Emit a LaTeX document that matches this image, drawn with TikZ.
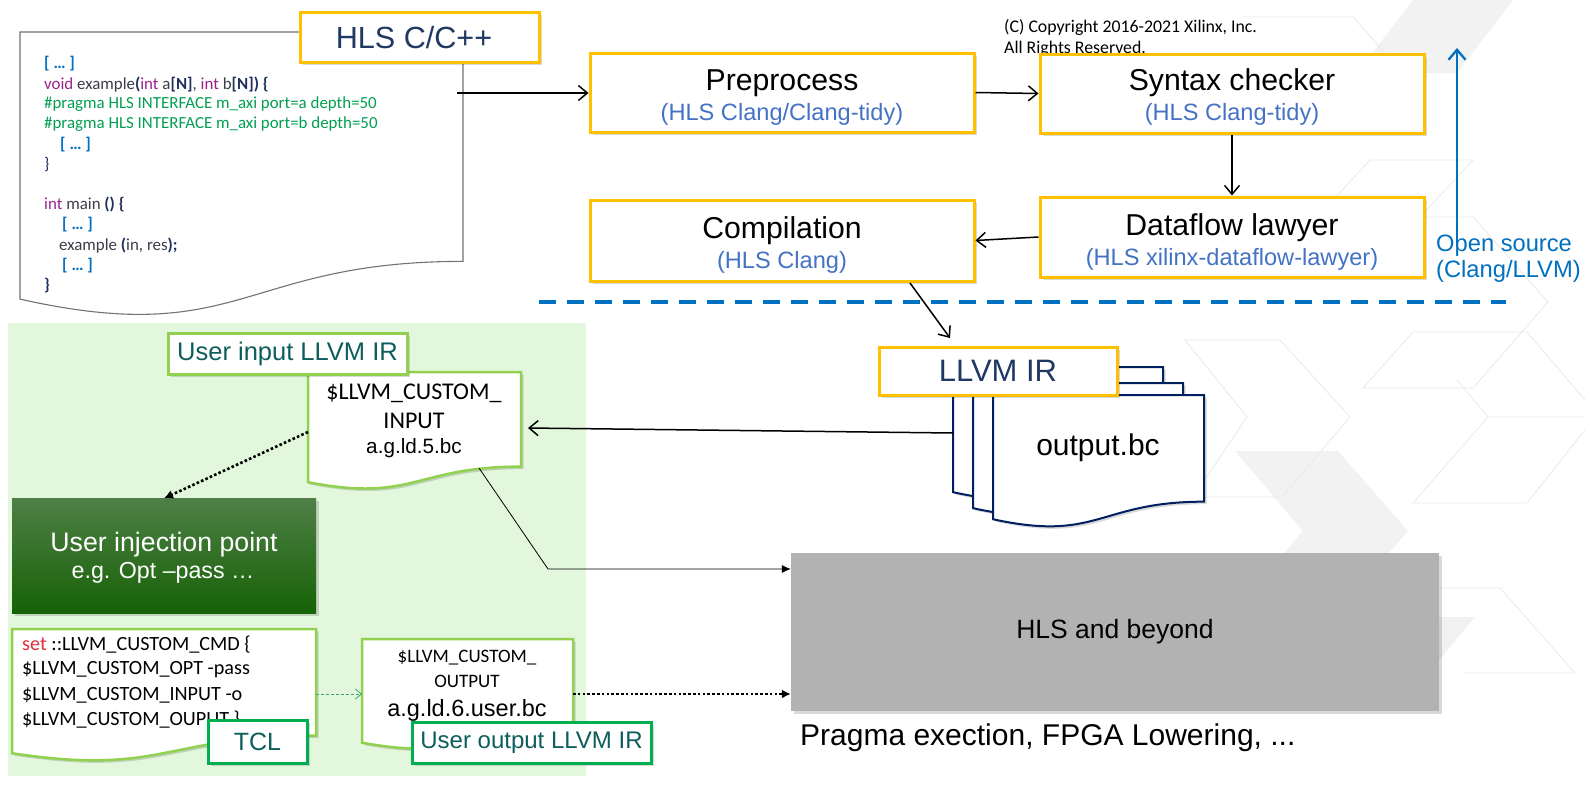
\documentclass[tikz,border=0pt]{standalone}
\usepackage{fontspec}
\setmainfont{Liberation Sans}
\newfontfamily\calib{Carlito}
\usetikzlibrary{arrows.meta,shadows,calc}
\definecolor{hy}{HTML}{FFC000}
\definecolor{navyt}{HTML}{1F3864}
\definecolor{subblue}{HTML}{4472C4}
\definecolor{osblue}{HTML}{0070C0}
\definecolor{lgreen}{HTML}{92D050}
\definecolor{mgreen}{HTML}{00B050}
\definecolor{tealt}{HTML}{0D5E5C}
\definecolor{bggreen}{RGB}{226,247,220}
\definecolor{cblue}{HTML}{0070C0}
\definecolor{cpurple}{HTML}{9B238C}
\definecolor{cgreen}{HTML}{00A050}
\definecolor{cgray}{HTML}{3C3C48}
\definecolor{cnavy}{HTML}{1F2F5F}
\definecolor{cred}{HTML}{E0303C}
\definecolor{docnavy}{HTML}{002060}
\definecolor{hlsgray}{HTML}{B2B2B2}
\definecolor{wm}{HTML}{F2F2F2}
\definecolor{wml}{HTML}{EAEAEA}
\definecolor{injtop}{HTML}{4F7F46}
\definecolor{injbot}{HTML}{166206}
\definecolor{tdash}{HTML}{3AA57A}
\newcommand{\fsz}[2]{\fontsize{#1}{#2}\selectfont}
\newcommand{\docpath}[5]{\path[#5] (#1,#2) -- (#3,#2) -- (#3,{#2+0.802*#4}) .. controls ({(#1+#3)/2},{#2+0.802*#4}) and ({(#1+#3)/2},{#2+1.1075*#4}) .. (#1,{#2+0.934*#4}) -- cycle;}
\begin{document}
\begin{tikzpicture}[x=1pt,y=-1pt,
  shd/.style={drop shadow={shadow xshift=2.5pt,shadow yshift=-2.5pt,opacity=0.15,fill=black}},
  ybox/.style={draw=hy,line width=3pt,fill=white,minimum width=384pt,minimum height=79pt,inner sep=0pt,shd},
  ttl/.style={font=\fsz{30.2}{35},text=black,inner sep=0pt},
  sub/.style={font=\fsz{23.6}{28},text=subblue,inner sep=0pt},
  arr/.style={line width=1.5pt,-{Straight Barb[length=9pt,width=15pt]}},
  code/.style={font=\calib\fsz{16.9}{20},text=cgray,inner sep=0pt,anchor=west},
  tcl/.style={font=\calib\fsz{20.2}{24},text=black,inner sep=0pt,anchor=west},
  gtag/.style={fill=white,line width=3pt,inner sep=0pt,text=tealt,shd},
  dots/.style={line width=2.6pt,dash pattern=on 2.6pt off 2.2pt,-{Latex[length=9pt,width=9pt]}},
]
\useasboundingbox (0,0) rectangle (1585,801);
\fill[white] (0,0) rectangle (1585,801);

% faint watermark chevrons
\fill[wm] (1413,0) -- (1513,0) -- (1457,73) -- (1357,73) -- cycle;
\fill[wm] (1235,451) -- (1338,451) -- (1408,531) -- (1338,611) -- (1235,611) -- (1303,531) -- cycle;
\fill[wm!80!gray!40] (1439,617) -- (1475,617) -- (1439,660) -- cycle;
\begin{scope}[draw=wml,line width=0.8pt]
\draw (1243,17) -- (1353,17) -- (1413,85);
\draw (1310,225) -- (1370,160) -- (1473,160) -- (1420,217) -- (1473,217) -- (1548,302) -- (1473,388) -- (1363,388) -- (1413,332) -- (1527,332) -- (1585,400);
\draw (1185,340) -- (1280,340) -- (1350,417) -- (1282,497) -- (1193,497) -- (1247,417) -- cycle;
\draw (1457,380) -- (1488,417) -- (1585,417);
\draw (1488,417) -- (1413,503) -- (1527,503) -- (1585,430);
\draw (1440,588) -- (1500,588) -- (1575,673) -- (1463,673);
\end{scope}

% green region
\fill[bggreen] (8,323) rectangle (586,776);

% code document
\docpath{20}{32}{463}{286}{draw=black!55,line width=1.1pt,fill=white}
\node[draw=hy,line width=3pt,fill=white,minimum width=239pt,minimum height=50pt,inner sep=0pt,shd] (hlsc) at (419.5,37) {};
\node[text=navyt,font=\fsz{30.6}{35},inner sep=0pt] (hlscT) at (414,38) {HLS C/C++};
\node[code] (c1) at (44,64) {\color{cblue}\textbf{[ … ]}};
\node[code] (c2) at (44,85) {{\color{cpurple}void} example{\color{cnavy}\textbf{(}}{\color{cpurple}int} a{\color{cnavy}\textbf{[N]}}, {\color{cpurple}int} b{\color{cnavy}\textbf{[N]) \{}}};
\node[code] (c3) at (44,104) {\color{cgreen}\#pragma HLS INTERFACE m\_axi port=a depth=50};
\node[code] (c4) at (44,124) {\color{cgreen}\#pragma HLS INTERFACE m\_axi port=b depth=50};
\node[code] (c5) at (60,145) {\color{cblue}\textbf{[ … ]}};
\node[code] (c6) at (44,165) {\color{cnavy}\}};
\node[code] (c7) at (44,205) {{\color{cpurple}int} main {\color{cnavy}\textbf{() \{}}};
\node[code] (c8) at (62,225) {\color{cblue}\textbf{[ … ]}};
\node[code] (c9) at (59,246) {example {\color{cnavy}\textbf{(}}in, res{\color{cnavy}\textbf{);}}};
\node[code] (c10) at (62,266) {\color{cblue}\textbf{[ … ]}};
\node[code] (c11) at (44,286) {\color{cnavy}\textbf{\}}};

% copyright
\node[font=\calib\fsz{17.8}{20},anchor=west,inner sep=0pt] (cr1) at (1004,28) {(C) Copyright 2016-2021 Xilinx, Inc.};
\node[font=\calib\fsz{17.8}{20},anchor=west,inner sep=0pt] (cr2) at (1004,49) {All Rights Reserved.};

% yellow boxes
\node[ybox] (pre) at (782,92.5) {};
\node[ttl] (preT) at (782,83) {Preprocess};
\node[sub] (preS) at (782,114) {(HLS Clang/Clang-tidy)};
\node[ybox] (syn) at (1232,93.5) {};
\node[ttl] (synT) at (1232,83) {Syntax checker};
\node[sub] (synS) at (1232,114) {(HLS Clang-tidy)};
\node[ybox,minimum height=80pt] (dfl) at (1232,237) {};
\node[ttl] (dflT) at (1232,228) {Dataflow lawyer};
\node[sub] (dflS) at (1232,259.5) {(HLS xilinx-dataflow-lawyer)};
\node[ybox,minimum height=81pt] (comp) at (782,240.5) {};
\node[ttl] (compT) at (782,231) {Compilation};
\node[sub] (compS) at (782,262.5) {(HLS Clang)};

\coordinate (cstart) at (457,93);
\draw[arr] (cstart) -- (pre.west |- cstart);
\draw[arr] (pre.east) -- (syn.west);
\draw[arr] (syn.south) -- (dfl.north);
\draw[arr] (dfl.west) -- (comp.east);

% open source
\coordinate (os1) at (1457,246);
\coordinate (os2) at (1457,48);
\draw[osblue,line width=2.3pt,-{Straight Barb[length=10pt,width=17pt]}] (os1) -- (os2);
\node[font=\fsz{23.7}{28},text=osblue,anchor=west,inner sep=0pt] (osT1) at (1436,245.5) {Open source};
\node[font=\fsz{23.7}{28},text=osblue,anchor=west,inner sep=0pt] (osT2) at (1436,271.5) {(Clang/LLVM)};

% dashed separator
\coordinate (dl1) at (539,302);
\coordinate (dl2) at (1506,302);
\draw[osblue,line width=4pt,dash pattern=on 17pt off 11pt] (dl1) -- (dl2);

% stacked output docs
\docpath{953}{367}{1163}{134}{draw=docnavy,line width=2pt,fill=white,shd}
\docpath{973}{383}{1183}{134}{draw=docnavy,line width=2pt,fill=white,shd}
\docpath{993}{395}{1204}{133}{draw=docnavy,line width=2pt,fill=white,shd}
\node[font=\fsz{30}{34},inner sep=0pt] (obc) at (1098,448) {output.bc};
\node[draw=hy,line width=3pt,fill=white,minimum width=238pt,minimum height=48pt,inner sep=0pt,shd,
  text=navyt,font=\fsz{31}{35}] (llvm) at (998,371) {LLVM IR};
\coordinate (cmpout) at (910,283);
\coordinate (llvmin) at (950,338);
\draw[line width=1.5pt,-{Straight Barb[length=9pt,width=15pt]}] (cmpout) -- (llvmin);

% user input doc
\docpath{308}{372}{521}{118}{draw=lgreen,line width=2.5pt,fill=white,shd}
\node[font=\calib\fsz{24}{28},inner sep=0pt] (in1) at (414,393) {\$LLVM\_CUSTOM\_};
\node[font=\calib\fsz{24}{28},inner sep=0pt] (in2) at (414,421) {INPUT};
\node[font=\fsz{20.7}{24},inner sep=0pt] (in3) at (414,448) {a.g.ld.5.bc};
\node[gtag,draw=lgreen,minimum width=239pt,minimum height=41pt,font=\fsz{25.5}{29}] (uin) at (287.5,353.5) {User input LLVM IR};

\coordinate (backL) at (953,433);
\coordinate (inR) at (528,428);
\draw[line width=1.5pt,-{Straight Barb[length=9pt,width=15pt]}] (backL) -- (inR);

% injection box
\node[top color=injtop,bottom color=injbot,minimum width=304pt,minimum height=115pt,inner sep=0pt,shd] (inj) at (164,556) {};
\node[text=white,font=\fsz{26.7}{30},inner sep=0pt] (injT) at (164,545) {User injection point};
\node[text=white,font=\fsz{23.2}{27},inner sep=0pt] (injS) at (163,573) {e.g. Opt –pass …};
\coordinate (inL) at (308,432);
\draw[dots] (inL) -- (inj.north);

% HLS and beyond
\node[fill=hlsgray,minimum width=648pt,minimum height=158pt,inner sep=0pt,shd,font=\fsz{26.5}{30}] (hls) at (1115,632) {HLS and beyond};
\node[font=\fsz{30}{34},anchor=west,inner sep=0pt] (prag) at (800,738) {Pragma exection, FPGA Lowering, ...};

\coordinate (inB) at (479,468);
\coordinate (bend) at (548,569);
\draw[line width=0.8pt,-{Latex[length=9pt,width=8pt]}] (inB) -- (bend) -- (hls.west |- bend);

% TCL doc
\docpath{12}{629}{316}{133}{draw=lgreen,line width=2.5pt,fill=white,shd}
\node[tcl] (t1) at (22,645) {{\color{cred}set} ::LLVM\_CUSTOM\_CMD \{};
\node[tcl] (t2) at (22,670) {\$LLVM\_CUSTOM\_OPT -pass};
\node[tcl] (t3) at (22,695) {\$LLVM\_CUSTOM\_INPUT -o};
\node[tcl] (t4) at (22,720) {\$LLVM\_CUSTOM\_OUPUT \}};
\node[gtag,draw=mgreen,minimum width=99pt,minimum height=43pt,font=\fsz{25}{29}] (tclT) at (257.5,741.5) {TCL};

% output doc
\docpath{362}{639}{573}{111}{draw=lgreen,line width=2.5pt,fill=white,shd}
\node[font=\calib\fsz{19}{23},inner sep=0pt] (o1) at (467,658) {\$LLVM\_CUSTOM\_};
\node[font=\calib\fsz{19}{23},inner sep=0pt] (o2) at (467,681) {OUTPUT};
\node[font=\fsz{23.5}{27},inner sep=0pt] (o3) at (467,710) {a.g.ld.6.user.bc};
\node[gtag,draw=mgreen,minimum width=239pt,minimum height=41pt,font=\fsz{24}{28}] (uout) at (531.5,742.5) {User output LLVM IR};

\coordinate (tclR) at (316,694);
\coordinate (outL) at (362,694);
\draw[tdash,line width=0.8pt,dash pattern=on 3pt off 2pt,-{Straight Barb[length=6pt,width=10pt]}] (tclR) -- (outL);
\coordinate (outR) at (573,694);
\draw[dots] (outR) -- (hls.west |- outR);
\end{tikzpicture}
\end{document}
